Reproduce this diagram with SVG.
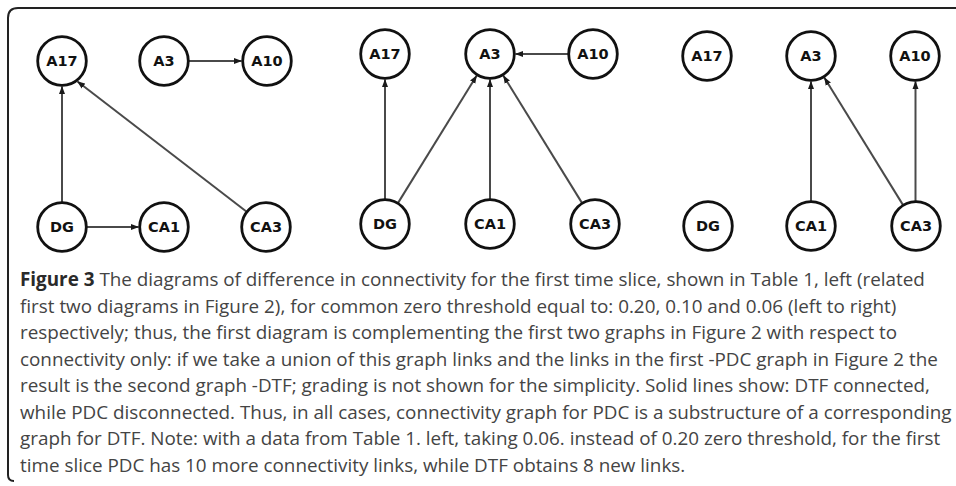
<svg xmlns="http://www.w3.org/2000/svg" width="956" height="486" viewBox="0 0 956 486">
<defs>
<style>
.node circle{fill:#fff;stroke:#111;stroke-width:2.8}
.node text{font-family:"DejaVu Sans",sans-serif;font-weight:bold;font-size:14.5px;fill:#111;text-anchor:middle}
.edge{stroke:#4a4a4a;stroke-width:2;fill:none;marker-end:url(#arr)}
.cap{font-family:"Open Sans","Noto Sans",sans-serif;font-size:18.85px;fill:#444}
.cap .b{font-weight:bold;fill:#2a2a2a}
</style>
<marker id="arr" markerUnits="userSpaceOnUse" markerWidth="8" markerHeight="7" refX="7.5" refY="3.5" orient="auto">
<path d="M0,0.5 L8,3.5 L0,6.5 z" fill="#1a1a1a"/>
</marker>
</defs>
<rect width="956" height="486" fill="#fff"/>
<path d="M14,481 Q8,481 8,475 L8,18 Q8,8 18,8 L956,8" fill="none" stroke="#222" stroke-width="2"/>
<g id="connectors">
<line class="edge" x1="189" y1="61" x2="241.5" y2="61"/>
<line class="edge" x1="87" y1="227" x2="138.5" y2="227"/>
<line class="edge" x1="62" y1="202" x2="62" y2="86.5"/>
<line class="edge" x1="247" y1="212" x2="77.5" y2="81.5"/>
<line class="edge" x1="568" y1="54" x2="515.5" y2="54"/>
<line class="edge" x1="385" y1="199" x2="385" y2="79.5"/>
<line class="edge" x1="397.6" y1="203.6" x2="476.6" y2="75.7"/>
<line class="edge" x1="490" y1="199" x2="490" y2="79.5"/>
<line class="edge" x1="582.4" y1="203.6" x2="503.4" y2="75.7"/>
<line class="edge" x1="811" y1="201" x2="811" y2="81.5"/>
<line class="edge" x1="915.5" y1="201" x2="915.5" y2="81.5"/>
<line class="edge" x1="903.4" y1="205.6" x2="824.4" y2="77.7"/>
</g>
<g id="p1-A17" class="node"><circle cx="62" cy="61" r="24.3"/><text x="62" y="66">A17</text></g>
<g id="p1-A3" class="node"><circle cx="164" cy="61" r="24.3"/><text x="164" y="66">A3</text></g>
<g id="p1-A10" class="node"><circle cx="267" cy="61" r="24.3"/><text x="267" y="66">A10</text></g>
<g id="p1-DG" class="node"><circle cx="62" cy="227" r="24.3"/><text x="62" y="232">DG</text></g>
<g id="p1-CA1" class="node"><circle cx="164" cy="227" r="24.3"/><text x="164" y="232">CA1</text></g>
<g id="p1-CA3" class="node"><circle cx="266" cy="227" r="24.3"/><text x="266" y="232">CA3</text></g>
<g id="p2-A17" class="node"><circle cx="385" cy="54" r="24.3"/><text x="385" y="59">A17</text></g>
<g id="p2-A3" class="node"><circle cx="490" cy="54" r="24.3"/><text x="490" y="59">A3</text></g>
<g id="p2-A10" class="node"><circle cx="593" cy="54" r="24.3"/><text x="593" y="59">A10</text></g>
<g id="p2-DG" class="node"><circle cx="385" cy="224" r="24.3"/><text x="385" y="229">DG</text></g>
<g id="p2-CA1" class="node"><circle cx="490" cy="224" r="24.3"/><text x="490" y="229">CA1</text></g>
<g id="p2-CA3" class="node"><circle cx="595" cy="224" r="24.3"/><text x="595" y="229">CA3</text></g>
<g id="p3-A17" class="node"><circle cx="707" cy="56" r="24.3"/><text x="707" y="61">A17</text></g>
<g id="p3-A3" class="node"><circle cx="811" cy="56" r="24.3"/><text x="811" y="61">A3</text></g>
<g id="p3-A10" class="node"><circle cx="915" cy="56" r="24.3"/><text x="915" y="61">A10</text></g>
<g id="p3-DG" class="node"><circle cx="708" cy="226" r="24.3"/><text x="708" y="231">DG</text></g>
<g id="p3-CA1" class="node"><circle cx="811" cy="226" r="24.3"/><text x="811" y="231">CA1</text></g>
<g id="p3-CA3" class="node"><circle cx="916" cy="226" r="24.3"/><text x="916" y="231">CA3</text></g>
<g id="caption" class="cap">
<text x="20" y="286"><tspan class="b">Figure 3</tspan> The diagrams of difference in connectivity for the first time slice, shown in Table 1, left (related</text>
<text x="20" y="312.5">first two diagrams in Figure 2), for common zero threshold equal to: 0.20, 0.10 and 0.06 (left to right)</text>
<text x="20" y="339">respectively; thus, the first diagram is complementing the first two graphs in Figure 2 with respect to</text>
<text x="20" y="365.5">connectivity only: if we take a union of this graph links and the links in the first -PDC graph in Figure 2 the</text>
<text x="20" y="392">result is the second graph -DTF; grading is not shown for the simplicity. Solid lines show: DTF connected,</text>
<text x="20" y="418.5">while PDC disconnected. Thus, in all cases, connectivity graph for PDC is a substructure of a corresponding</text>
<text x="20" y="445">graph for DTF. Note: with a data from Table 1. left, taking 0.06. instead of 0.20 zero threshold, for the first</text>
<text x="20" y="471.5">time slice PDC has 10 more connectivity links, while DTF obtains 8 new links.</text>
</g>
</svg>
